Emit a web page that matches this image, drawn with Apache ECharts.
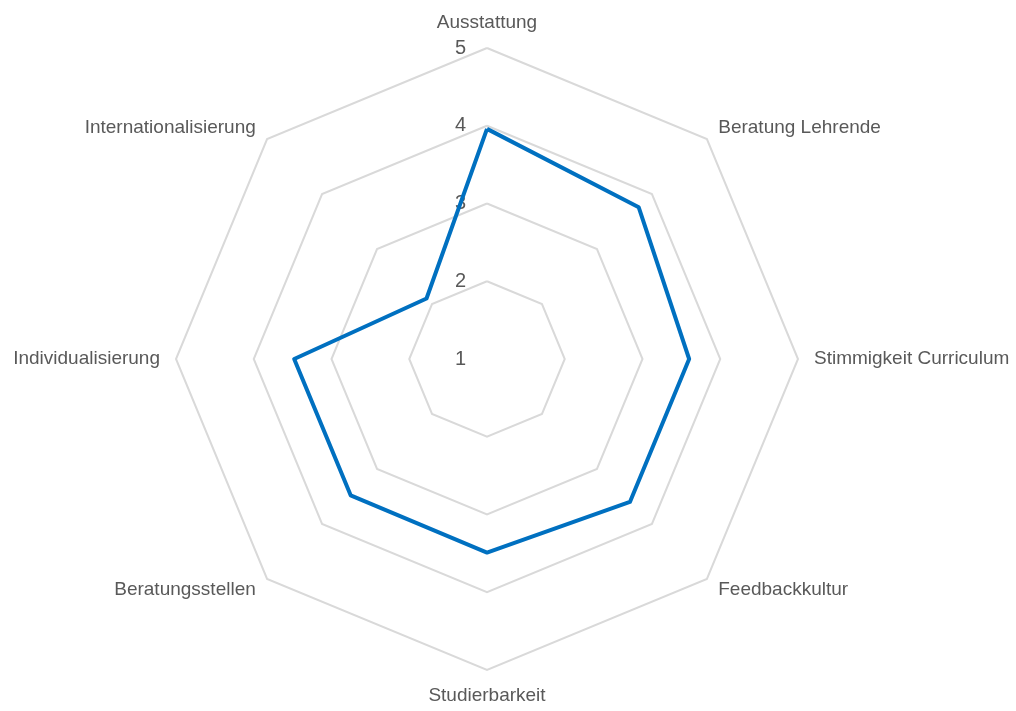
<!DOCTYPE html>
<html>
<head>
<meta charset="utf-8">
<script src="https://cdn.jsdelivr.net/npm/echarts@6/dist/echarts.min.js"></script>
<style>
  html, body { margin: 0; padding: 0; background: #fff; }
  #chart { width: 1016px; height: 711px; }
</style>
</head>
<body>
<div id="chart"></div>
<script>
// Kategorien im Uhrzeigersinn, beginnend oben
const categories = ['Ausstattung', 'Beratung Lehrende', 'Stimmigkeit Curriculum', 'Feedbackkultur',
  'Studierbarkeit', 'Beratungsstellen', 'Individualisierung', 'Internationalisierung']
const values = [3.96, 3.76, 3.60, 3.60, 3.49, 3.48, 3.48, 2.10]
const scaleMin = 1
const scaleMax = 5

// ECharts legt die Achsen gegen den Uhrzeigersinn an -> umsortieren
const order = [0].concat(categories.map((c, i) => i).slice(1).reverse())

const font = "'Liberation Sans', Arial, sans-serif"
const chart = echarts.init(document.getElementById('chart'))

const option = {
  animation: false,
  radar: {
    center: [487, 359],
    radius: 311,
    startAngle: 90,
    shape: 'polygon',
    splitNumber: 4,
    nameGap: 16,
    axisName: { color: '#595959', fontSize: 19, fontFamily: font },
    indicator: order.map((i, k) => ({
      name: categories[i],
      min: scaleMin,
      max: scaleMax,
      axisLabel: k === 0 ? { show: true } : undefined
    })),
    axisLine: { show: false },
    axisTick: { show: false },
    axisLabel: { show: false, color: '#595959', fontSize: 20, fontFamily: font, margin: 21 },
    splitLine: { lineStyle: { color: '#d9d9d9', width: 2 } },
    splitArea: { show: false }
  },
  series: [{
    type: 'radar',
    symbol: 'none',
    lineStyle: { color: '#0070c0', width: 4 },
    data: [{ value: order.map(i => values[i]) }]
  }]
}

chart.setOption(option)
</script>
</body>
</html>
